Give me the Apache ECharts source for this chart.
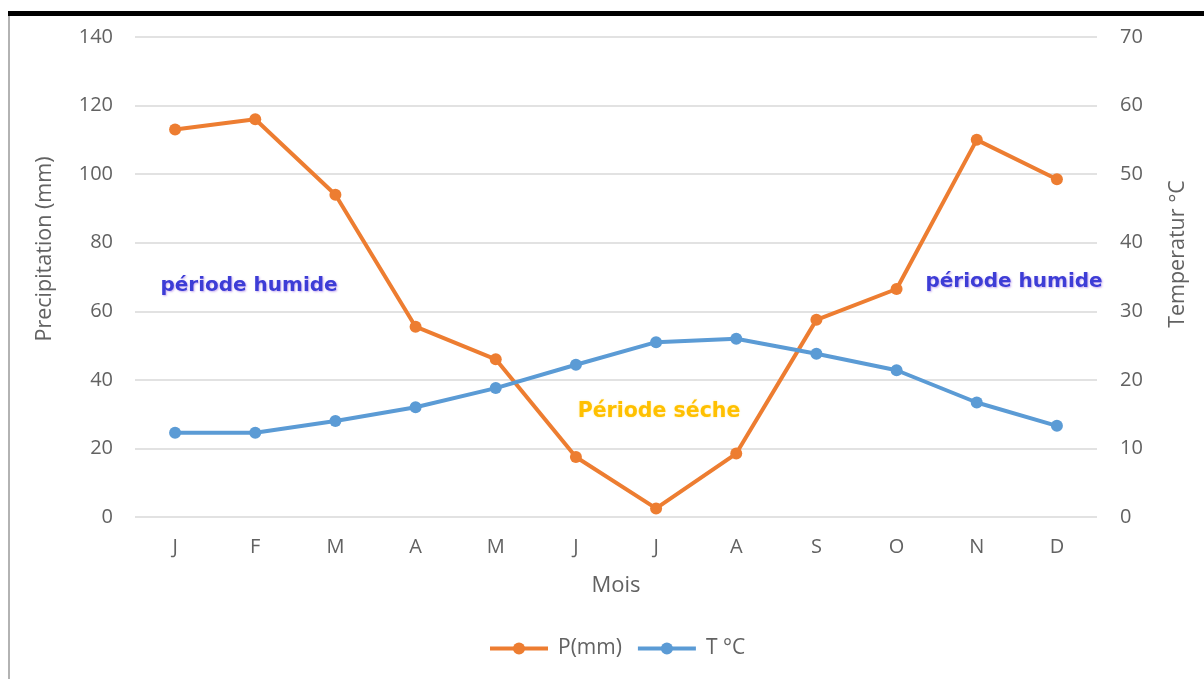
<!DOCTYPE html>
<html>
<head>
<meta charset="utf-8">
<script src="https://cdn.jsdelivr.net/npm/echarts@6/dist/echarts.min.js"></script>
<style>
html,body{margin:0;padding:0;background:#fff;}
#chart{width:1204px;height:679px;}
</style>
</head>
<body>
<div id="chart"></div>
<script>
var months = ['J','F','M','A','M','J','J','A','S','O','N','D'];
var precipitation = [113, 116, 94, 55.5, 46, 17.5, 2.5, 18.5, 57.5, 66.5, 110, 98.5];
var temperature = [12.3, 12.3, 14, 16, 18.8, 22.2, 25.5, 26, 23.8, 21.4, 16.7, 13.3];
var leftTicks = {min: 0, max: 140, interval: 20};
var rightTicks = {min: 0, max: 70, interval: 10};

var FONT = '"Open Sans", sans-serif';
var GREY = '#626262';
var chart = echarts.init(document.getElementById('chart'));
chart.setOption({
  backgroundColor: '#ffffff',
  animation: false,
  grid: {left: 135, right: 107, top: 37, bottom: 162, containLabel: false},
  legend: {
    bottom: 15, left: 483,
    itemWidth: 58, itemHeight: 15, itemGap: 14,
    lineStyle: {width: 4},
    textStyle: {color: GREY, fontSize: 21, fontFamily: FONT, padding: [0,0,0,5]},
    data: ['P(mm)', 'T °C']
  },
  xAxis: {
    type: 'category', data: months, boundaryGap: true,
    name: 'Mois', nameLocation: 'middle', nameGap: 58,
    nameTextStyle: {color: GREY, fontSize: 22, fontFamily: FONT},
    axisLine: {show: false}, axisTick: {show: false},
    axisLabel: {color: GREY, fontSize: 20, fontFamily: FONT, margin: 20}
  },
  yAxis: [{
    type: 'value', min: leftTicks.min, max: leftTicks.max, interval: leftTicks.interval,
    axisLine: {show: false}, axisTick: {show: false},
    axisLabel: {color: GREY, fontSize: 20, fontFamily: FONT, margin: 22},
    splitLine: {lineStyle: {color: '#d9d9d9', width: 1.5}}
  }, {
    type: 'value', min: rightTicks.min, max: rightTicks.max, interval: rightTicks.interval,
    position: 'right',
    axisLine: {show: false}, axisTick: {show: false},
    axisLabel: {color: GREY, fontSize: 20, fontFamily: FONT, margin: 23},
    splitLine: {show: false}
  }],
  series: [{
    name: 'P(mm)', type: 'line', yAxisIndex: 0, data: precipitation,
    symbol: 'circle', symbolSize: 12,
    lineStyle: {color: '#ED7D31', width: 4},
    itemStyle: {color: '#ED7D31'}
  }, {
    name: 'T °C', type: 'line', yAxisIndex: 1, data: temperature,
    symbol: 'circle', symbolSize: 12,
    lineStyle: {color: '#5B9BD5', width: 4},
    itemStyle: {color: '#5B9BD5'}
  }],
  graphic: [
    {type: 'rect', shape: {x: 8, y: 11, width: 1196, height: 5}, style: {fill: '#000'}, silent: true},
    {type: 'rect', shape: {x: 8, y: 16, width: 2, height: 663}, style: {fill: '#b3b3b3'}, silent: true},
    {type: 'text', x: 45, y: 249, rotation: Math.PI / 2,
      style: {text: 'Precipitation (mm)', fill: GREY, font: '21.5px ' + FONT, align: 'center', verticalAlign: 'middle'}},
    {type: 'text', x: 1178, y: 254, rotation: Math.PI / 2,
      style: {text: 'Temperatur °C', fill: GREY, font: '21.5px ' + FONT, align: 'center', verticalAlign: 'middle'}},
    {type: 'text', x: 249, y: 286,
      style: {text: 'période humide', fill: '#3d3dd6', font: 'bold 20px "DejaVu Sans", sans-serif', align: 'center', verticalAlign: 'middle',
        textShadowColor: 'rgba(140,80,220,0.45)', textShadowBlur: 2, textShadowOffsetX: 1, textShadowOffsetY: 1}},
    {type: 'text', x: 1014, y: 282,
      style: {text: 'période humide', fill: '#3d3dd6', font: 'bold 20px "DejaVu Sans", sans-serif', align: 'center', verticalAlign: 'middle',
        textShadowColor: 'rgba(140,80,220,0.45)', textShadowBlur: 2, textShadowOffsetX: 1, textShadowOffsetY: 1}},
    {type: 'text', x: 659, y: 412,
      style: {text: 'Période séche', fill: '#FFC000', font: 'bold 20.5px "DejaVu Sans", sans-serif', align: 'center', verticalAlign: 'middle',
        textShadowColor: 'rgba(255,200,0,0.4)', textShadowBlur: 2}}
  ]
});
</script>
</body>
</html>
